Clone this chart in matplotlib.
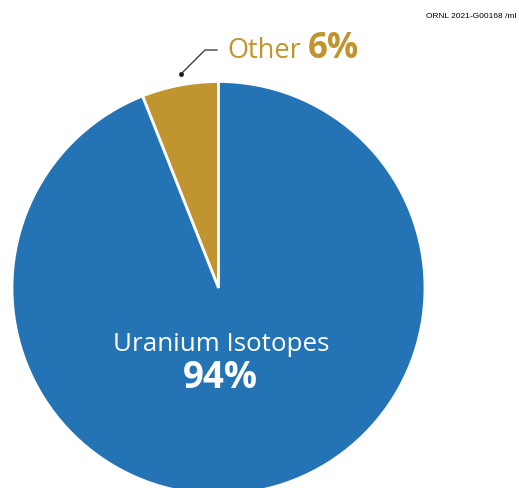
import matplotlib
matplotlib.use("Agg")
import matplotlib.pyplot as plt

categories = ["Other", "Uranium Isotopes"]
values = [6, 94]
pct_labels = ["6%", "94%"]
colors = ["#C0942E", "#2474B5"]

W, H = 519, 488
fig = plt.figure(figsize=(W / 100, H / 100), dpi=100)
ax = fig.add_axes([0, 0, 1, 1])

cx, cy, r = 218.5, H - 288, 206.5
ax.pie(values, colors=colors, startangle=90, counterclock=True,
       center=(cx, cy), radius=r, frame=True,
       wedgeprops=dict(edgecolor="white", linewidth=2))
ax.set_xlim(0, W)
ax.set_ylim(0, H)
ax.set_aspect("equal")
ax.axis("off")

font = "Open Sans"
# Other label with leader line
ax.plot([181, 205, 217], [H - 74, H - 50, H - 50], color="#404040", lw=1)
ax.plot([181], [H - 74], marker="o", color="#202020", ms=2.5)
ax.text(227, H - 58, categories[0], color="#C0942E", fontsize=19.5,
        family=font, ha="left", va="baseline")
ax.text(308, H - 58, pct_labels[0], color="#C0942E", fontsize=25,
        family=font, fontweight="bold", ha="left", va="baseline")

ax.text(221, H - 351, categories[1], color="white", fontsize=18.7,
        family=font, ha="center", va="baseline")
ax.text(220, H - 388, pct_labels[1], color="white", fontsize=26.5,
        family=font, fontweight="bold", ha="center", va="baseline")

ax.text(516, H - 16, "ORNL 2021-G00168 /ml", color="black", fontsize=6,
        family="Liberation Sans", ha="right", va="center")

fig.savefig("out.png", dpi=100)
